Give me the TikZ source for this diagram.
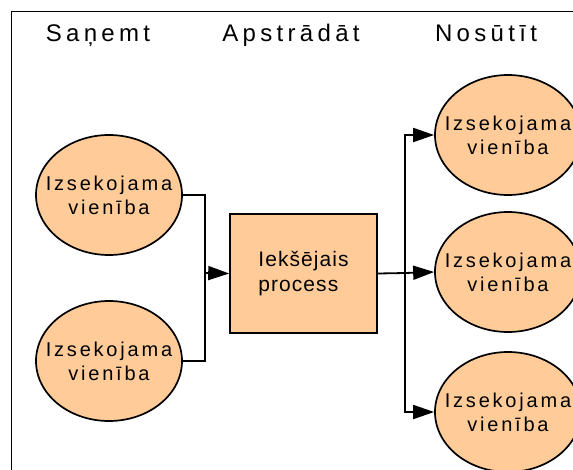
\documentclass[tikz,border=0pt]{standalone}
\usepackage{fontspec}
\setmainfont{Liberation Sans}
\newfontfamily\headfont[LetterSpace=18]{Liberation Sans}
\newfontfamily\unitfont[LetterSpace=14]{Liberation Sans}
\newfontfamily\procfont[LetterSpace=5]{Liberation Sans}
\usetikzlibrary{arrows.meta,shapes.geometric}
\definecolor{peach}{HTML}{FFCC99}

\tikzset{
  frameline/.style={line width=1.8pt},
  heading/.style={anchor=base, inner sep=0pt, font=\headfont\fontsize{24}{28}\selectfont},
  unittext/.style={align=center, inner sep=0pt, text depth=0pt,
    font=\unitfont\fontsize{20}{24}\selectfont},
  unit/.style={ellipse, draw, line width=1.7pt, fill=peach,
    minimum width=146pt, minimum height=120pt, inner sep=0pt,
    label={[unittext]center:#1}},
  procbox/.style={rectangle, draw, line width=1.6pt, fill=peach,
    minimum width=147pt, minimum height=119pt, inner sep=0pt,
    align=left, font=\procfont\fontsize{21}{25}\selectfont},
  link/.style={line width=1.8pt},
  flow/.style={link, -{Triangle[length=21pt,width=14pt]}},
}

\begin{document}
\begin{tikzpicture}[x=1pt,y=-1pt]
  \useasboundingbox (0,0) rectangle (573,469);
  \clip (0,0) rectangle (573,469);

  % outer frame (right and bottom edges lie off the page)
  \draw[frameline] (11.5,600) -- (11.5,11.5) -- (700,11.5);

  % column headings
  \node[heading] (hin)   at (98,41)  {Saņemt};
  \node[heading] (hproc) at (291,41) {Apstrādāt};
  \node[heading] (hout)  at (486,41) {Nosūtīt};

  % incoming units
  \node[unit={Izsekojama\\vienība}] (in1) at (109,195) {};
  \node[unit={Izsekojama\\vienība}] (in2) at (109,361) {};

  % internal process
  \node[procbox] (proc) at (303.5,273.5) {Iekšējais\\process};

  % outgoing units
  \node[unit={Izsekojama\\vienība}] (out1) at (508,135) {};
  \node[unit={Izsekojama\\vienība}] (out2) at (508,272) {};
  \node[unit={Izsekojama\\vienība}] (out3) at (508,412) {};

  % junction points
  \coordinate (jin)  at (205,273);
  \coordinate (jout) at (405,273);

  % connectors
  \draw[link] (in1.east) -| (jin);
  \draw[link] (in2.east) -| (jin);
  \draw[flow] (jin) -- (proc.west);
  \draw[link] (proc.east) -- (jout);
  \draw[flow] (jout) |- (out1.west);
  \draw[flow] (jout) -- (out2.west);
  \draw[flow] (jout) |- (out3.west);
\end{tikzpicture}
\end{document}
